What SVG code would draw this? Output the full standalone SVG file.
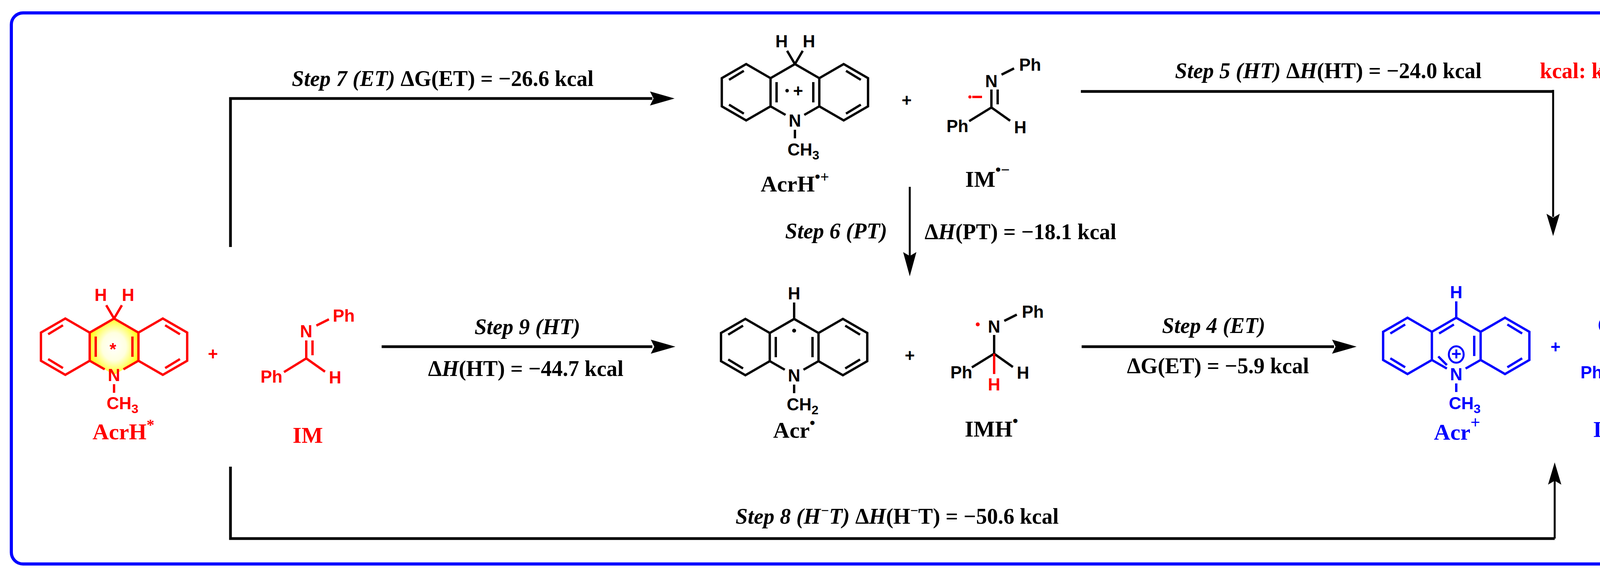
<svg xmlns="http://www.w3.org/2000/svg" xmlns:xlink="http://www.w3.org/1999/xlink" width="4404" height="1484" viewBox="0 0 4404 1484">
<style>
.bd{fill:none;stroke-width:6;stroke-linecap:butt}
.at{font-family:"Liberation Sans",Arial,sans-serif;font-weight:bold;font-size:44px;text-anchor:middle}
.lb{font-family:"Liberation Serif","Times New Roman",serif;font-weight:bold;font-size:58px;text-anchor:middle}
.st{font-family:"Liberation Serif","Times New Roman",serif;font-weight:bold;font-size:56px}
.it{font-style:italic}
.cn{fill:none;stroke:#000;stroke-width:7}
.k{fill:#000}.r{fill:#ff0000}.b{fill:#0000ff}
</style>
<defs>
<radialGradient id="yg" cx="0.5" cy="0.5" r="0.55">
<stop offset="0" stop-color="#ffffff"/><stop offset="0.45" stop-color="#ffffe0"/><stop offset="1" stop-color="#ffff00"/>
</radialGradient>
<path id="skel" d="M-62.4,-36 L-124.8,-72 L-187.2,-36 L-187.2,36 L-124.8,72 L-62.4,36 Z M62.4,-36 L124.8,-72 L187.2,-36 L187.2,36 L124.8,72 L62.4,36 Z M-62.4,-36 L0,-72 L62.4,-36 M-62.4,36 L-24,58 M62.4,36 L24,58 M0,96 L0,118"/>
<path id="outer" d="M-130.8,-54.7 L-168.7,-31.7 M-168.7,31.7 L-130.8,54.7 M130.8,-54.7 L168.7,-31.7 M168.7,31.7 L130.8,54.7"/>
<path id="midv" d="M-47,-26 L-47,26 M47,-26 L47,26"/>
<path id="h2" d="M0,-72 L-20,-106 M0,-72 L20,-106"/>
<path id="h1" d="M0,-72 L0,-114"/>
<path id="imb" d="M26,-84 L58,-100 M0,0 L-57,35 M0,0 L48,34"/>
</defs>
<rect x="29" y="33" width="4333" height="1410" rx="30" fill="none" stroke="#0000ff" stroke-width="8"/>

<g id="AcrHstar" transform="translate(292,887)">
<path d="M0,-72 L62.4,-36 L62.4,36 L0,72 L-62.4,36 L-62.4,-36 Z" fill="url(#yg)"/>
<g stroke="#ff0000" class="bd"><use xlink:href="#skel"/><use xlink:href="#outer"/><use xlink:href="#midv"/><use xlink:href="#h2"/></g>
<g class="r">
<text class="at" x="-34" y="-117">H</text><text class="at" x="36" y="-117">H</text>
<text class="at" x="0" y="88">N</text>
<text class="at" x="-19" y="160" style="text-anchor:start">CH<tspan font-size="32" dy="10">3</tspan></text>
<text class="at" x="-3" y="22" font-size="40">*</text>
</g>
<text class="lb r" x="24" y="237">AcrH<tspan font-size="40" dy="-24">*</tspan></text>
</g>
<text class="at r" x="545" y="921" font-size="52">+</text>

<g id="IM" transform="translate(784,917)">
<g stroke="#ff0000" class="bd"><use xlink:href="#imb"/><path d="M0,-46 L0,0 M16,-46 L16,-8"/></g>
<g class="r"><text class="at" x="0" y="-54">N</text><text class="at" x="96" y="-94">Ph</text><text class="at" x="-89" y="62">Ph</text><text class="at" x="74" y="64">H</text></g>
<text class="lb r" x="4" y="216">IM</text>
</g>

<g id="AcrHrc" transform="translate(2035,236)">
<g stroke="#000" class="bd"><use xlink:href="#skel"/><use xlink:href="#outer"/><use xlink:href="#midv"/><use xlink:href="#h2"/></g>
<g class="k">
<text class="at" x="-34" y="-115">H</text><text class="at" x="36" y="-115">H</text>
<text class="at" x="0" y="88">N</text>
<text class="at" x="-19" y="162" style="text-anchor:start">CH<tspan font-size="32" dy="10">3</tspan></text>
<circle cx="-20" cy="-4" r="4.5"/>
<text class="at" x="8" y="12" font-size="52">+</text>
</g>
<text class="lb k" x="0" y="254">AcrH<tspan font-size="40" dy="-24">•+</tspan></text>
</g>
<text class="at k" x="2321" y="272" font-size="52">+</text>

<g id="IMrad" transform="translate(2538,275)">
<g stroke="#000" class="bd"><use xlink:href="#imb"/><path d="M0,-46 L0,0 M16,-46 L16,-8"/></g>
<g class="k"><text class="at" x="0" y="-52">N</text><text class="at" x="99" y="-94">Ph</text><text class="at" x="-87" y="63">Ph</text><text class="at" x="74" y="66">H</text></g>
<circle cx="-55" cy="-27" r="4" class="r"/><rect x="-49" y="-30" width="25" height="6" class="r"/>
<text class="lb k" x="-10" y="203">IM<tspan font-size="40" dy="-30">•−</tspan></text>
</g>

<g id="Acrrad" transform="translate(2033,888)">
<g stroke="#000" class="bd"><use xlink:href="#skel"/><use xlink:href="#outer"/><use xlink:href="#midv"/><use xlink:href="#h1"/></g>
<g class="k">
<text class="at" x="0" y="-122">H</text>
<text class="at" x="0" y="88">N</text>
<text class="at" x="-19" y="162" style="text-anchor:start">CH<tspan font-size="32" dy="10">2</tspan></text>
<circle cx="0" cy="-42" r="5"/>
</g>
<text class="lb k" x="0" y="232">Acr<tspan font-size="40" dy="-24">•</tspan></text>
</g>
<text class="at k" x="2329" y="925" font-size="52">+</text>

<g id="IMHrad" transform="translate(2545,905)">
<g stroke="#000" class="bd"><use xlink:href="#imb"/><path d="M0,-48 L0,0"/></g>
<path d="M0,0 L0,52" stroke="#ff0000" class="bd"/>
<g class="k"><text class="at" x="0" y="-54">N</text><text class="at" x="99" y="-92">Ph</text><text class="at" x="-84" y="63">Ph</text><text class="at" x="74" y="64">H</text></g>
<text class="at r" x="0" y="94">H</text>
<circle cx="-42" cy="-75" r="5" class="r"/>
<text class="lb k" x="-7" y="212">IMH<tspan font-size="40" dy="-26">•</tspan></text>
</g>

<g id="Acrplus" transform="translate(3728,885)">
<g stroke="#0000ff" class="bd"><use xlink:href="#skel"/><use xlink:href="#outer"/><use xlink:href="#h1"/>
<path d="M-43.9,-31.7 L-6,-54.7 M-46,27 L-24,49 M46,-26 L46,26"/>
<ellipse cx="0" cy="22" rx="19" ry="21" stroke-width="5"/></g>
<g class="b">
<text class="at" x="0" y="-122">H</text>
<text class="at" x="0" y="88">N</text>
<text class="at" x="-19" y="162" style="text-anchor:start">CH<tspan font-size="32" dy="10">3</tspan></text>
<text class="at" x="0" y="36" font-size="40">+</text>
</g>
<text class="lb b" x="2" y="240">Acr<tspan font-size="44" dy="-30">+</tspan></text>
</g>
<text class="at b" x="3982" y="903" font-size="52">+</text>

<g id="IMHminus" transform="translate(4163,907)">
<g stroke="#0000ff" class="bd"><use xlink:href="#imb"/><path d="M0,-48 L0,52"/>
<ellipse cx="-49" cy="-75" rx="19" ry="21" stroke-width="5"/></g>
<rect x="-60" y="-78" width="22" height="6" class="b"/>
<g class="b"><text class="at" x="0" y="-54">N</text><text class="at" x="98" y="-96">Ph</text><text class="at" x="-89" y="61">Ph</text><text class="at" x="72" y="62">H</text><text class="at" x="0" y="94">H</text></g>
<text class="lb b" x="-11" y="211">IMH<tspan font-size="44" dy="-26">−</tspan></text>
</g>

<g id="connectors">
<path class="cn" d="M590,632 V252 H1670"/>
<polygon class="k" points="1727,252 1664,234 1673,252 1664,270"/>
<path class="cn" d="M2767,234 H3976" />
<path d="M3976,230 V555" stroke="#000" stroke-width="5" fill="none"/>
<polygon class="k" points="3976,604 3959,547 3976,557 3993,547"/>
<path d="M2329,478 V655" stroke="#000" stroke-width="5" fill="none"/>
<polygon class="k" points="2329,707 2312,645 2329,655 2346,645"/>
<path class="cn" d="M977,887 H1670"/>
<polygon class="k" points="1729,887 1666,869 1675,887 1666,905"/>
<path class="cn" d="M2769,887 H3415"/>
<polygon class="k" points="3473,887 3410,869 3419,887 3410,905"/>
<path class="cn" d="M590,1194 V1378 H3980"/>
<path d="M3980,1378 V1230" stroke="#000" stroke-width="5" fill="none"/>
<polygon class="k" points="3980,1183 3963,1240 3980,1230 3997,1240"/>
</g>

<g id="labels" class="k">
<text class="st" x="747" y="220"><tspan class="it">Step 7 (ET)</tspan>  ΔG(ET) = −26.6 kcal</text>
<text class="st" x="3008" y="200"><tspan class="it">Step 5 (HT)</tspan> Δ<tspan class="it">H</tspan>(HT) = −24.0 kcal</text>
<text class="st r" x="3942" y="200">kcal: kcal/mol</text>
<text class="st" x="2010" y="610"><tspan class="it">Step 6 (PT)</tspan></text>
<text class="st" x="2367" y="612">Δ<tspan class="it">H</tspan>(PT) = −18.1 kcal</text>
<text class="st it" x="1350" y="855" text-anchor="middle">Step 9 (HT)</text>
<text class="st" x="1346" y="962" text-anchor="middle">Δ<tspan class="it">H</tspan>(HT) = −44.7 kcal</text>
<text class="st it" x="3107" y="852" text-anchor="middle">Step 4 (ET)</text>
<text class="st" x="3118" y="955" text-anchor="middle">ΔG(ET) = −5.9 kcal</text>
<text class="st" x="1883" y="1340"><tspan class="it">Step 8 (H<tspan font-size="36" dy="-22">−</tspan><tspan dy="22">T)</tspan></tspan> Δ<tspan class="it">H</tspan>(H<tspan font-size="36" dy="-22">−</tspan><tspan dy="22">T) = −50.6 kcal</tspan></text>
</g>
</svg>
